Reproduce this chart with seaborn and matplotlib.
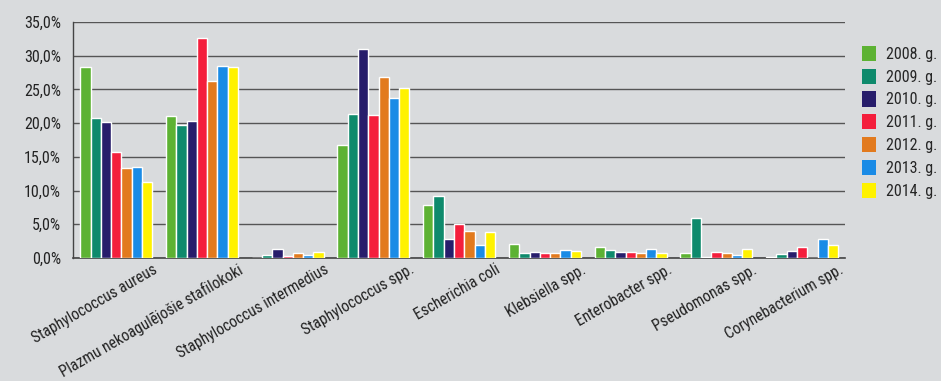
import matplotlib
matplotlib.use("Agg")
import matplotlib.pyplot as plt
import matplotlib.transforms as mtransforms
import seaborn as sns
import pandas as pd
from matplotlib.ticker import FuncFormatter, FixedLocator
from matplotlib.patches import Patch

categories = [
    "Staphylococcus aureus",
    "Plazmu nekoagulējošie stafilokoki",
    "Staphylococcus intermedius",
    "Staphylococcus spp.",
    "Escherichia coli",
    "Klebsiella spp.",
    "Enterobacter spp.",
    "Pseudomonas spp.",
    "Corynebacterium spp.",
]
years = ["2008. g.", "2009. g.", "2010. g.", "2011. g.", "2012. g.", "2013. g.", "2014. g."]

share_2008 = [28.4, 21.0, 0.0, 16.8, 7.8, 2.0, 1.6, 0.7, 0.1]
share_2009 = [20.8, 19.7, 0.5, 21.3, 9.2, 0.7, 1.2, 6.0, 0.6]
share_2010 = [20.2, 20.3, 1.3, 31.0, 2.8, 0.9, 0.9, 0.2, 1.0]
share_2011 = [15.7, 32.6, 0.3, 21.2, 5.1, 0.8, 0.9, 0.9, 1.6]
share_2012 = [13.3, 26.3, 0.8, 26.8, 4.0, 0.7, 0.8, 0.7, 0.0]
share_2013 = [13.5, 28.5, 0.4, 23.8, 1.9, 1.2, 1.4, 0.5, 2.8]
share_2014 = [11.3, 28.4, 0.9, 25.2, 3.9, 1.1, 0.8, 1.4, 1.9]

series = [share_2008, share_2009, share_2010, share_2011, share_2012, share_2013, share_2014]
colors = ["#5db233", "#0e8a6c", "#271d6b", "#f41e3c", "#e27a1e", "#1a8be6", "#fff200"]

rows = []
for year, vals in zip(years, series):
    for cat, v in zip(categories, vals):
        rows.append({"category": cat, "year": year, "share": v})
df = pd.DataFrame(rows)

bg = "#d9dbdd"
sns.set_style("white")
plt.rcParams["font.family"] = ["DejaVu Sans Condensed", "Liberation Sans Narrow",
                               "Roboto Condensed", "DejaVu Sans"]
plt.rcParams["font.stretch"] = "condensed"

fig = plt.figure(figsize=(9.41, 3.81), dpi=100, facecolor=bg)
ax = fig.add_axes([0.078, 0.323, 0.820, 0.619])
ax.set_facecolor(bg)

sns.barplot(data=df, x="category", y="share", hue="year", order=categories,
            hue_order=years, palette=colors, width=0.84, gap=0, saturation=1,
            errorbar=None, ax=ax, legend=False, zorder=3)

ax.set_ylim(0, 35)
ax.set_xlim(-0.5, len(categories) - 0.5)
ax.yaxis.set_major_locator(FixedLocator([0, 5, 10, 15, 20, 25, 30, 35]))
ax.yaxis.set_major_formatter(FuncFormatter(lambda v, p: f"{v:.1f}%".replace(".", ",")))
ax.grid(axis="y", color="#555555", linewidth=1.0, zorder=0)
ax.set_axisbelow(True)

for side in ["top", "right"]:
    ax.spines[side].set_visible(False)
ax.spines["left"].set_color("#444444")
ax.spines["bottom"].set_color("#444444")
ax.spines["left"].set_linewidth(1.0)
ax.spines["bottom"].set_linewidth(1.2)

ax.set_xlabel("")
ax.set_ylabel("")
ax.tick_params(axis="y", labelsize=11.5, colors="#222222", length=6, width=1.0,
               direction="out", pad=3)
ax.tick_params(axis="x", which="major", length=0, labelsize=11.2, colors="#222222", pad=3)
ax.set_xticks(range(len(categories)))
ax.set_xticklabels(categories, rotation=30, ha="right", rotation_mode="anchor")
shift = mtransforms.ScaledTranslation(0.36, 0, fig.dpi_scale_trans)
for lab in ax.get_xticklabels():
    lab.set_transform(lab.get_transform() + shift)
ax.set_xticks([i - 0.5 for i in range(len(categories) + 1)], minor=True)
ax.tick_params(axis="x", which="minor", length=7, width=1.0, color="#444444", direction="out")

handles = [Patch(facecolor=c, edgecolor="none") for c in colors]
fig.legend(handles, years, loc="upper left", bbox_to_anchor=(0.916, 0.88),
           frameon=False, fontsize=11.5, handlelength=0.9, handleheight=1.1,
           handletextpad=0.6, labelspacing=0.42, borderaxespad=0, borderpad=0)

fig.savefig("out.png", dpi=100, facecolor=bg)
